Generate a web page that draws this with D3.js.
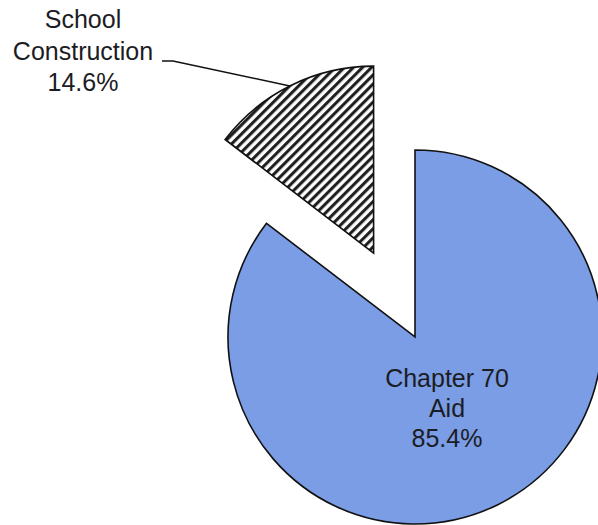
<!DOCTYPE html>
<html>
<head>
<meta charset="utf-8">
<script src="https://cdn.jsdelivr.net/npm/d3@7"></script>
<style>
  html, body { margin: 0; padding: 0; background: #fff; }
  svg { display: block; }
  text { font-family: "Liberation Sans", Arial, sans-serif; fill: #1c1c24; }
</style>
</head>
<body>
<svg id="chart" width="598" height="525"></svg>
<script>
const categories = ["Chapter 70 Aid", "School Construction"];
const labelLines = [["Chapter 70", "Aid", "85.4%"], ["School", "Construction", "14.6%"]];
const values = [85.4, 14.6];

const W = 598, H = 525;
const cx = 415, cy = 337, R = 187;
const explode = [0, 0.5 * R];

const svg = d3.select("#chart");
const defs = svg.append("defs");
const pat = defs.append("pattern")
  .attr("id", "hatch")
  .attr("patternUnits", "userSpaceOnUse")
  .attr("width", 6.4).attr("height", 6.4)
  .attr("patternTransform", "rotate(45)");
pat.append("rect").attr("width", 6.4).attr("height", 6.4).attr("fill", "#fff");
pat.append("line").attr("x1", 1.6).attr("y1", 0).attr("x2", 1.6).attr("y2", 6.4)
  .attr("stroke", "#1a1a1a").attr("stroke-width", 3.0);

const pie = d3.pie().sort(null).value(d => d).startAngle(0).endAngle(2 * Math.PI);
const arcs = pie(values);
const arc = d3.arc().innerRadius(0).outerRadius(R);
const fills = ["#7a9de5", "url(#hatch)"];

const g = svg.append("g").attr("transform", `translate(${cx},${cy})`);

function offset(d, i) {
  const a = (d.startAngle + d.endAngle) / 2;
  return [Math.sin(a) * explode[i], -Math.cos(a) * explode[i]];
}

g.selectAll("path.slice").data(arcs).join("path")
  .attr("class", "slice")
  .attr("d", arc)
  .attr("transform", (d, i) => { const o = offset(d, i); return `translate(${o[0]},${o[1]})`; })
  .attr("fill", (d, i) => fills[i])
  .attr("stroke", "#111")
  .attr("stroke-width", 1.6)
  .attr("stroke-linejoin", "miter");

// Blue slice label
const fs = 25, lh = 30;
const blueLab = g.append("text").attr("text-anchor", "middle").attr("font-size", fs);
labelLines[0].forEach((t, k) => {
  blueLab.append("tspan").attr("x", 32).attr("y", 50 + k * lh).text(t);
});

// School Construction label with leader line
const d1 = arcs[1];
const o1 = offset(d1, 1);
const aPt = 0.988 * (d1.startAngle + d1.endAngle) / 2 + 0.012 * d1.startAngle;
const px = o1[0] + Math.sin(aPt) * R, py = o1[1] - Math.cos(aPt) * R;
const lx = 83 - cx, lyBase = 28 - cy;
g.append("polyline")
  .attr("points", [[px, py], [173 - cx, 61 - cy], [162 - cx, 61 - cy]].map(p => p.join(",")).join(" "))
  .attr("fill", "none").attr("stroke", "#111").attr("stroke-width", 1.6);
const schLab = g.append("text").attr("text-anchor", "middle").attr("font-size", fs);
labelLines[1].forEach((t, k) => {
  schLab.append("tspan").attr("x", lx).attr("y", lyBase + k * 31.5).text(t);
});
</script>
</body>
</html>
